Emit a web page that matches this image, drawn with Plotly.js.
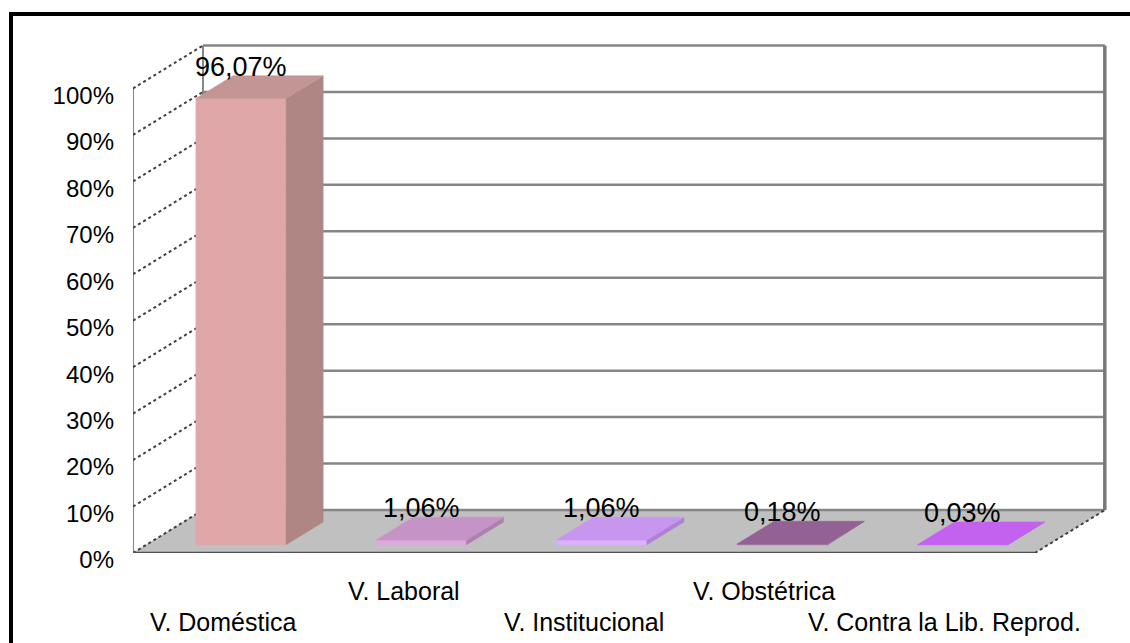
<!DOCTYPE html>
<html><head><meta charset="utf-8">
<script src="https://cdn.plot.ly/plotly-3.0.1.min.js"></script>
<style>
html,body{margin:0;padding:0;background:#fff;overflow:hidden}
#chart{width:1130px;height:643px;position:absolute;left:0;top:0}
#frame{position:absolute;left:9px;top:12px;width:1300px;height:800px;border:4px solid #000;pointer-events:none}
</style></head><body>
<div id="chart"></div><div id="frame"></div>
<script>
// ---- data ----
const categories = ['V. Doméstica', 'V. Laboral', 'V. Institucional', 'V. Obstétrica', 'V. Contra la Lib. Reprod.'];
const values = [96.07, 1.06, 1.06, 0.18, 0.03];
const valueLabels = ['96,07%', '1,06%', '1,06%', '0,18%', '0,03%'];
const yTicks = [0, 10, 20, 30, 40, 50, 60, 70, 80, 90, 100];
const yTickLabels = ['0%', '10%', '20%', '30%', '40%', '50%', '60%', '70%', '80%', '90%', '100%'];

// ---- styles ----
const frontColors = ['#DFA7A7', '#DDA8DD', '#DDB0FF', '#A070A0', '#D080FF'];
const sideColors  = ['#B08685', '#AF80AF', '#B080D8', '#805080', '#A050D0'];
const topColors   = ['#C39594', '#C693C6', '#C796EE', '#936193', '#C462F0'];
const FONT = 'Liberation Sans, Arial, sans-serif';
const DX = 0.388, DY = 9.25;      // depth projection (x units, y units)
const D0 = 0.19, D1 = 0.72;       // bar depth extent
const B0 = 0.275, B1 = 0.775;     // bar extent within category
const N = categories.length;
const yMax = yTicks[yTicks.length - 1];

const traces = [];
function poly(xs, ys, color, lw, lc) {
  traces.push({type: 'scatter', mode: 'lines', x: xs.concat([xs[0]]), y: ys.concat([ys[0]]),
    fill: 'toself', fillcolor: color, line: {color: lc || color, width: lw || 0.5},
    hoverinfo: 'skip', showlegend: false});
}
function lines(segs, color, width, dash) {
  const xs = [], ys = [];
  segs.forEach(s => { xs.push(s[0], s[2], null); ys.push(s[1], s[3], null); });
  traces.push({type: 'scatter', mode: 'lines', x: xs, y: ys,
    line: {color: color, width: width, dash: dash || 'solid'}, hoverinfo: 'skip', showlegend: false,
    connectgaps: false});
}

// floor
poly([0, N, N + DX, DX], [0, 0, DY, DY], '#C0C0C0', 0.5);
// back wall gridlines
lines(yTicks.map(v => [DX, v + DY, N + DX, v + DY]), '#868686', 2.5);
// back wall vertical edges
lines([[DX, DY, DX, yMax + DY]], '#868686', 2);
lines([[N + DX, DY, N + DX, yMax + DY]], '#7a7a7a', 3.5);
// left wall front vertical edge
lines([[0, 0, 0, yMax]], '#868686', 2);
// left wall depth lines (dotted)
lines(yTicks.map(v => [0, v, DX, v + DY]), '#404040', 2, 'dot');
// floor right depth edge
lines([[N, 0, N + DX, DY]], '#404040', 2, 'dot');
// floor front edge
lines([[0, 0, N, 0]], '#505050', 2.5);

// bars
const annotations = [];
values.forEach((v, i) => {
  const x0 = i + B0, x1 = i + B1;
  const fx0 = x0 + D0 * DX, fx1 = x1 + D0 * DX, bx0 = x0 + D1 * DX, bx1 = x1 + D1 * DX;
  const fy = D0 * DY, by = D1 * DY;
  poly([fx0, fx1, fx1, fx0], [fy, fy, v + fy, v + fy], frontColors[i]);
  poly([fx1, bx1, bx1, fx1], [fy, by, v + by, v + fy], sideColors[i]);
  poly([fx0, fx1, bx1, bx0], [v + fy, v + fy, v + by, v + by], topColors[i]);
  annotations.push({x: (fx0 + fx1) / 2, y: v + by, xref: 'x', yref: 'y', text: valueLabels[i],
    showarrow: false, yanchor: 'middle', xanchor: 'center', yshift: 9,
    font: {family: FONT, size: 27, color: '#000'}});
  annotations.push({x: i + 0.5, y: 0, xref: 'x', yref: 'paper', text: categories[i],
    showarrow: false, yanchor: 'middle', xanchor: 'center', yshift: (i % 2 === 0) ? -69 : -38,
    font: {family: FONT, size: 25, color: '#000'}});
});

const layout = {
  width: 1130, height: 643,
  margin: {l: 133, r: 14, t: 42, b: 90, pad: 0},
  paper_bgcolor: '#fff', plot_bgcolor: '#fff',
  showlegend: false,
  xaxis: {range: [0, N + 0.45], visible: false, fixedrange: true},
  yaxis: {range: [0, 110], tickvals: yTicks, ticktext: yTickLabels, showgrid: false, zeroline: false,
    showline: false, ticks: '', ticklabelstandoff: 18, ticklabelshift: 7, fixedrange: true,
    tickfont: {family: FONT, size: 24, color: '#000'}},
  annotations: annotations
};
Plotly.newPlot('chart', traces, layout, {displayModeBar: false, staticPlot: true});
</script>
</body></html>
